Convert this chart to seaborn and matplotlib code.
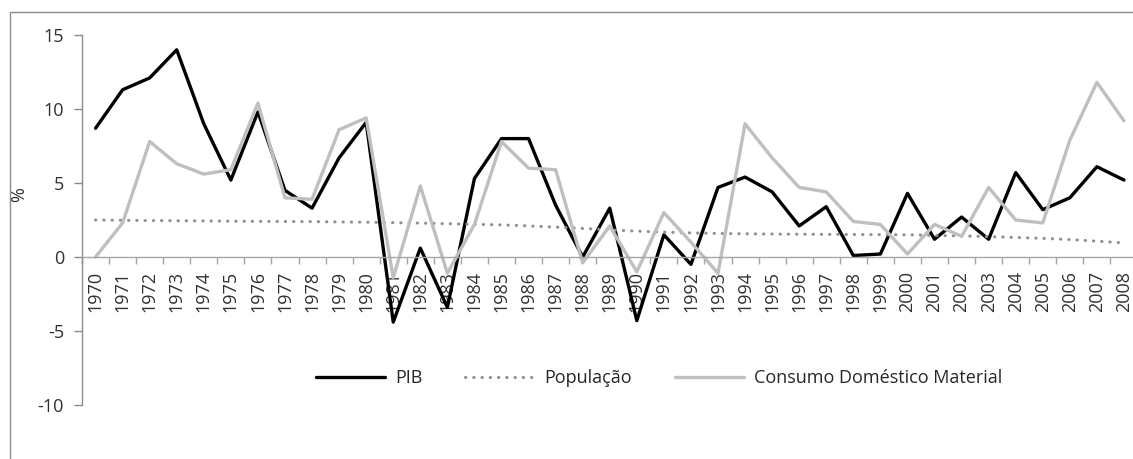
import numpy as np
import pandas as pd
import matplotlib
matplotlib.use("Agg")
import matplotlib.pyplot as plt
import seaborn as sns
from matplotlib.patches import Rectangle
from matplotlib.ticker import FixedLocator

years = list(range(1970, 2009))
pib = [8.7, 11.3, 12.1, 14.0, 9.0, 5.2, 9.8, 4.5, 3.3, 6.7, 9.1,
       -4.4, 0.6, -3.4, 5.3, 8.0, 8.0, 3.5, 0.0, 3.3, -4.3,
       1.5, -0.5, 4.7, 5.4, 4.4, 2.1, 3.4, 0.1, 0.2, 4.3,
       1.2, 2.7, 1.2, 5.7, 3.2, 4.0, 6.1, 5.2]
populacao = [2.50, 2.48, 2.46, 2.45, 2.44, 2.42, 2.41, 2.40, 2.39, 2.37, 2.35,
             2.32, 2.29, 2.25, 2.21, 2.17, 2.10, 2.02, 1.93, 1.83, 1.75,
             1.68, 1.63, 1.59, 1.57, 1.55, 1.54, 1.53, 1.52, 1.51, 1.50,
             1.46, 1.42, 1.38, 1.32, 1.26, 1.18, 1.07, 0.95]
cdm = [0.0, 2.3, 7.8, 6.3, 5.6, 5.9, 10.4, 4.0, 3.9, 8.6, 9.4,
       -1.4, 4.8, -1.1, 2.2, 7.8, 6.0, 5.9, -0.4, 2.1, -1.0,
       3.0, 1.0, -1.1, 9.0, 6.7, 4.7, 4.4, 2.4, 2.2, 0.2,
       2.2, 1.4, 4.7, 2.5, 2.3, 7.9, 11.8, 9.2]
yticks = [-10, -5, 0, 5, 10, 15]
series_names = ["PIB", "População", "Consumo Doméstico Material"]

df = pd.DataFrame({"ano": years, "PIB": pib, "População": populacao,
                   "Consumo Doméstico Material": cdm})

sns.set_style("white")
plt.rcParams["font.family"] = ["Open Sans", "DejaVu Sans"]
FS = 13
TXT = "#303030"

W, H = 1133, 459
fig = plt.figure(figsize=(W / 100, H / 100), dpi=100)
AX_L, AX_R = 82, 1137.5
ax = fig.add_axes([AX_L / W, 1 - 405 / H, (AX_R - AX_L) / W, 370 / H])

# outer frame
fig.patches.append(Rectangle((10 / W, -0.05), 1.2, 1 - 12.5 / H + 0.05,
                             transform=fig.transFigure, fill=False,
                             edgecolor="#8c8c8c", linewidth=1.0))

styles = {
    "PIB": dict(color="black", linewidth=2.4, linestyle="-"),
    "População": dict(color="#8f8f8f", linewidth=2.2, linestyle=(0, (0.1, 2.6)),
                      dash_capstyle="round"),
    "Consumo Doméstico Material": dict(color="#bfbfbf", linewidth=2.4, linestyle="-"),
}
for name in series_names:
    sns.lineplot(data=df, x="ano", y=name, ax=ax, label=name, **styles[name])

ax.set_xlim(years[0] - 0.5, years[-1] + 0.5)
ax.set_ylim(-10, 15)

for s in ["top", "right"]:
    ax.spines[s].set_visible(False)
ax.spines["left"].set_color("#8c8c8c")
ax.spines["left"].set_linewidth(1.0)
ax.spines["bottom"].set_position(("data", 0))
ax.spines["bottom"].set_color("#a6a6a6")
ax.spines["bottom"].set_linewidth(1.0)

ax.set_yticks(yticks)
ax.set_yticklabels([str(v) for v in yticks])
ax.set_xticks(years)
ax.set_xticklabels([str(y) for y in years])
ax.xaxis.set_minor_locator(FixedLocator([y - 0.5 for y in years] + [years[-1] + 0.5]))

ax.tick_params(axis="y", which="major", length=6, width=1, color="#8c8c8c",
               labelsize=FS, labelcolor=TXT, pad=7, left=True, direction="out")
ax.tick_params(axis="x", which="major", length=0, labelsize=FS,
               labelcolor=TXT, pad=10, labelrotation=90)
ax.tick_params(axis="x", which="minor", length=5, width=1, color="#a6a6a6",
               bottom=True, direction="out")

ax.set_xlabel("")
ax.set_ylabel("%", fontsize=FS, color=TXT)
ax.yaxis.set_label_coords(-(AX_L - 28) / (AX_R - AX_L), (405 - 195) / 370)

leg = ax.legend(loc="center", bbox_to_anchor=((659 - AX_L) / (AX_R - AX_L), (405 - 378) / 370),
                ncol=3, frameon=False, fontsize=FS, handlelength=3.8,
                handletextpad=0.55, columnspacing=2.4)
for t in leg.get_texts():
    t.set_color("#262626")

fig.savefig("out.png", dpi=100)
